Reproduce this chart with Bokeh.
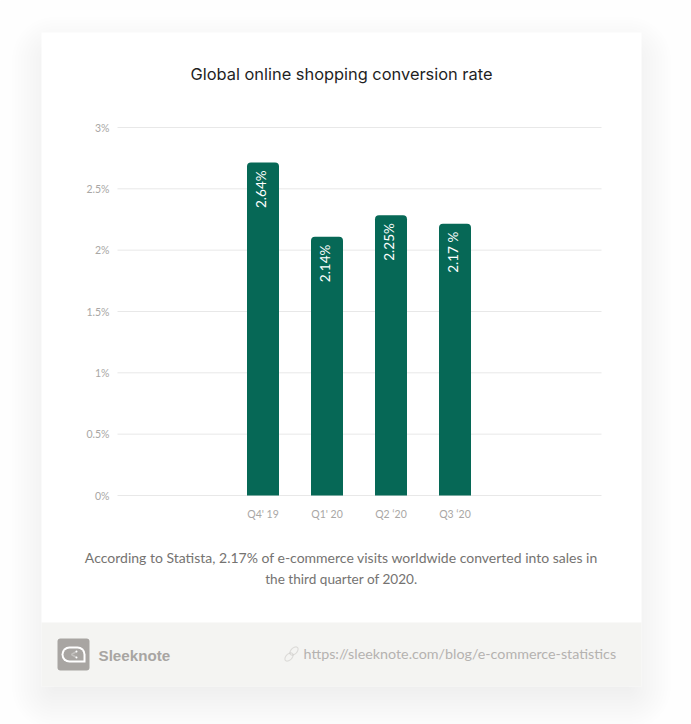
from math import pi, cos, sin
from bokeh.core.properties import value
from bokeh.embed import file_html
from bokeh.resources import INLINE
from bokeh.plotting import figure
from bokeh.models import (BoxAnnotation, ColumnDataSource, FixedTicker, Label,
                          LabelSet, PolyAnnotation, Range1d)

TITLE = "Global online shopping conversion rate"
CAPTION = ["According to Statista, 2.17% of e-commerce visits worldwide converted into sales in",
           "the third quarter of 2020."]
BRAND = "Sleeknote"
URL = "https://sleeknote.com/blog/e-commerce-statistics"
categories = ["Q4' 19", "Q1' 20", "Q2 ‘20", "Q3 ‘20"]
bar_heights = [2.715, 2.11, 2.285, 2.215]
bar_labels = ["2.64%", "2.14%", "2.25%", "2.17 %"]
y_ticks = [0, 0.5, 1, 1.5, 2, 2.5, 3]
y_tick_labels = ["0%", "0.5%", "1%", "1.5%", "2%", "2.5%", "3%"]

W, H = 691, 724
positions = list(range(len(categories)))

# frame fills the page: map pixels to data so that the plot area sits at x 117..601, y 127..495
PX_X = 64.0
PX_Y = 368 / 3
X0, Y0 = 262.5, 495.0
xd = lambda px: (px - X0) / PX_X
yd = lambda py: (Y0 - py) / PX_Y

p = figure(width=W, height=H, output_backend="svg", toolbar_location=None,
           x_range=Range1d(xd(0), xd(W)), y_range=Range1d(yd(H), yd(0)),
           min_border=0, min_border_left=0, min_border_right=0, min_border_top=0, min_border_bottom=0,
           background_fill_color="#fefefe", border_fill_color="#fefefe", outline_line_alpha=0)


def box(l, t, r, b, color, alpha=1.0, radius=0, level="image"):
    return BoxAnnotation(left=l, right=r, top=t, bottom=b,
                         left_units="canvas", right_units="canvas", top_units="canvas",
                         bottom_units="canvas", fill_color=color, fill_alpha=alpha, line_alpha=0,
                         border_radius=radius, level=level, editable=False)


def label(x, y, text, size, color, align="left", font="Lato", style="normal"):
    return Label(x=x, y=y, x_units="canvas", y_units="canvas", text=text,
                 text_font=font, text_font_size=f"{size}px", text_color=color, text_align=align,
                 text_baseline="middle", text_font_style=style, level="overlay")


# card shadow, footer and card
for g in range(30, -18, -3):
    p.add_layout(box(41 - g, 32 + 14 - g, 641 + g, 686 + 14 + g, "#000000", 0.0045, radius=max(g + 14, 2)))
p.add_layout(box(41, 32, 641, 686, "#ffffff"))
p.add_layout(box(41, 622, 641, 686, "#f4f4f2"))

# axes, pinned inside the frame
xax, yax = p.xaxis[0], p.yaxis[0]
for ax in (xax, yax):
    ax.axis_line_alpha = 0
    ax.major_tick_line_alpha = 0
    ax.minor_tick_line_alpha = 0
    ax.major_label_text_font = "Lato"
    ax.major_label_text_font_size = "10.5px"
    ax.major_label_text_color = "#a9a7a5"
xax.fixed_location = 0
yax.fixed_location = xd(117)
xax.major_label_standoff = 6
yax.major_label_standoff = 2
xax.ticker = FixedTicker(ticks=positions)
xax.major_label_overrides = dict(zip(positions, categories))
yax.ticker = FixedTicker(ticks=y_ticks)
yax.major_label_overrides = dict(zip(y_ticks, y_tick_labels))
p.xgrid.visible = False
p.ygrid.visible = False

p.segment(x0=[xd(117)] * len(y_ticks), x1=[xd(601)] * len(y_ticks), y0=y_ticks, y1=y_ticks,
          line_color="#e8e8e8", line_width=1)

src = ColumnDataSource(dict(x=positions, top=bar_heights, text=bar_labels))
p.vbar(x="x", top="top", bottom=0, width=0.5, source=src, fill_color="#066856", line_alpha=0,
       border_radius={"top_left": 4, "top_right": 4, "bottom_left": 0, "bottom_right": 0})
p.add_layout(LabelSet(x="x", y="top", text="text", source=src, angle=pi / 2, x_offset=-2, y_offset=-8,
                      text_align="right", text_baseline="middle", text_color="#ffffff",
                      text_font=value("Lato"), text_font_size="13.5px"))

# texts
p.add_layout(label(341, 73, TITLE, 16.4, "#1f1f1f", "center", font="Inter"))
p.add_layout(label(341, 557, CAPTION[0], 14, "#757371", "center"))
p.add_layout(label(341, 578, CAPTION[1], 13.6, "#757371", "center"))
p.add_layout(label(98, 655, BRAND, 15.2, "#a8a5a2", font="Liberation Sans", style="bold"))
p.add_layout(label(303, 652.5, URL, 14.3, "#b4b2b0"))

# logo
p.add_layout(box(57, 638, 89, 670, "#a8a5a2", radius=3, level="annotation"))
p.add_layout(box(61, 646, 85, 662, "#ffffff",
                 radius=dict(top_left=8, top_right=8, bottom_right=0, bottom_left=8), level="annotation"))
p.add_layout(box(63, 648, 83, 660, "#a8a5a2",
                 radius=dict(top_left=6, top_right=6, bottom_right=0, bottom_left=6), level="annotation"))


# share mark in the logo and link icon
def poly(xs, ys, color="#a8a5a2", width=1.0):
    return PolyAnnotation(xs=xs, ys=ys, xs_units="canvas", ys_units="canvas", fill_alpha=0,
                          line_color=color, line_width=width, level="annotation", editable=False)


def loop(cx, cy, a, b):
    pts = [(a * cos(k * pi / 8), b * sin(k * pi / 8)) for k in range(16)]
    c = cos(-pi / 4)
    s = sin(-pi / 4)
    return poly([cx + u * c - v * s for u, v in pts], [cy + u * s + v * c for u, v in pts], "#a5a2a0", 1.1)


p.add_layout(poly([76, 71, 76, 71], [651, 654, 657, 654], "#ffffff", 1.5))
p.add_layout(box(75, 650, 77, 652, "#ffffff", radius=1, level="annotation"))
p.add_layout(box(75, 656, 77, 658, "#ffffff", radius=1, level="annotation"))

p.add_layout(loop(288.5, 656.5, 5, 3))
p.add_layout(loop(293.5, 650.5, 5, 3))

open("out.html", "w").write(file_html(p, INLINE))
